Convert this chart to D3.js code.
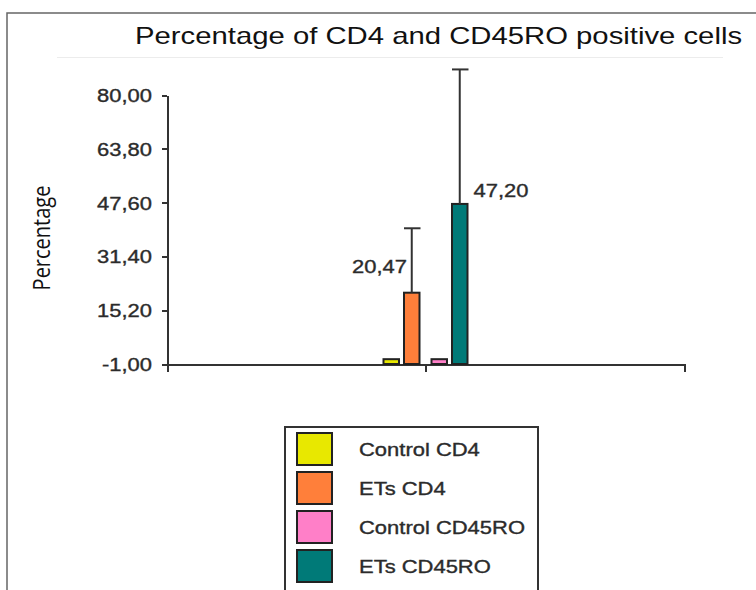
<!DOCTYPE html>
<html>
<head>
<meta charset="utf-8">
<style>
    body { margin: 0; padding: 0; overflow: hidden; background-color: #fff; }
    svg { display: block; }
    text { font-family: "Liberation Sans", Arial, sans-serif; fill: #2b2b2b; }
    .heavy { stroke: #2b2b2b; stroke-width: 0.35px; }
    .axis path, .axis line { stroke: #333; stroke-width: 2; shape-rendering: crispEdges; }
</style>
</head>
<body>
<div id="chart"></div>
<script src="https://d3js.org/d3.v7.min.js"></script>
<script>
    // data
    var categories = ["Control CD4", "ETs CD4", "Control CD45RO", "ETs CD45RO"];
    var groups = ["CD4", "CD45RO"];
    var conditions = ["Control", "ETs"];
    var values = [0.45, 20.47, 0.45, 47.20];
    var errors = [0, 19.4, 0, 40.5];
    var labels = [null, "20,47", null, "47,20"];
    var colors = ["#e8e800", "#ff7f3a", "#ff7fc8", "#007a78"];
    var yTicks = [-1, 15.2, 31.4, 47.6, 63.8, 80];

    var width = 756, height = 590;
    var stretchK = 1.22; // the original image is a bit wider than tall

    var svg = d3.select("#chart").append("svg")
        .attr("width", width)
        .attr("height", height);

    // outer frame, runs off right and bottom
    svg.append("rect")
        .attr("x", 7).attr("y", 13)
        .attr("width", 800).attr("height", 800)
        .attr("fill", "none")
        .attr("stroke", "#666")
        .attr("stroke-width", 1.5);

    function stretch(sel, k) {
        sel.each(function() {
            var w = this.getComputedTextLength();
            d3.select(this).attr("textLength", w * k).attr("lengthAdjust", "spacingAndGlyphs");
        });
    }

    var title = svg.append("text")
        .attr("x", 135).attr("y", 44)
        .style("font-size", "24px")
        .style("fill", "#111")
        .text("Percentage of CD4 and CD45RO positive cells");
    stretch(title, stretchK);

    svg.append("line")
        .attr("x1", 57).attr("x2", 723)
        .attr("y1", 57.5).attr("y2", 57.5)
        .attr("stroke", "#ececec");

    var plot = { left: 167, right: 684, top: 95, bottom: 364 };

    var y = d3.scaleLinear().domain([-1, 80]).range([plot.bottom, plot.top]);
    var x = d3.scaleBand().domain([""]).range([plot.left, plot.right]);
    var cx = x("") + x.bandwidth() / 2;
    var x0 = d3.scaleBand().domain(groups).range([cx - 42, cx + 42]).paddingInner(0.25);
    var x1 = d3.scaleBand().domain(conditions).range([0, x0.bandwidth()]).paddingInner(0.244);

    var locale = d3.formatLocale({ decimal: ",", thousands: ".", grouping: [3], currency: ["", ""], minus: "-" });
    var fmt = locale.format(".2f");

    var yAxis = svg.append("g")
        .attr("class", "axis")
        .attr("transform", "translate(" + plot.left + ",0)")
        .call(d3.axisLeft(y).tickValues(yTicks).tickFormat(fmt).tickSize(5).tickSizeOuter(0).tickPadding(10));
    yAxis.selectAll("text")
        .attr("class", "heavy")
        .style("font-size", "18px")
        .style("fill", "#2b2b2b")
        .attr("dy", "0.36em");
    stretch(yAxis.selectAll("text"), stretchK);

    var xAxis = svg.append("g")
        .attr("class", "axis")
        .attr("transform", "translate(0," + plot.bottom + ")")
        .call(d3.axisBottom(x).tickSize(8).tickSizeOuter(8));
    xAxis.selectAll("text").remove();

    svg.append("text")
        .attr("transform", "translate(50,238) rotate(-90) scale(1,1.22)")
        .attr("text-anchor", "middle")
        .style("font-family", "'Open Sans', sans-serif")
        .style("font-size", "20px")
        .style("fill", "#111")
        .text("Percentage");

    var bars = categories.map(function(c, i) {
        var g = groups[Math.floor(i / 2)];
        var cond = conditions[i % 2];
        return { name: c, value: values[i], err: errors[i], label: labels[i], color: colors[i],
                 x: x0(g) + x1(cond), w: x1.bandwidth() };
    });

    svg.append("g").selectAll("rect")
        .data(bars)
        .enter().append("rect")
        .attr("x", d => d.x)
        .attr("y", d => y(d.value))
        .attr("width", d => d.w)
        .attr("height", d => y(-1) - y(d.value))
        .attr("fill", d => d.color)
        .attr("stroke", "#222")
        .attr("stroke-width", 2);

    // error bars
    var eb = svg.append("g").selectAll("g")
        .data(bars.filter(d => d.err > 0))
        .enter().append("g")
        .attr("stroke", "#333")
        .attr("stroke-width", 2);
    eb.append("line")
        .attr("x1", d => d.x + d.w / 2).attr("x2", d => d.x + d.w / 2)
        .attr("y1", d => y(d.value)).attr("y2", d => y(d.value + d.err));
    eb.append("line")
        .attr("x1", d => d.x).attr("x2", d => d.x + d.w + 1)
        .attr("y1", d => y(d.value + d.err)).attr("y2", d => y(d.value + d.err));

    // value labels
    var vl = svg.append("g").selectAll("text")
        .data(bars.filter(d => d.label))
        .enter().append("text")
        .attr("class", "heavy")
        .attr("x", (d, i) => i === 0 ? d.x + 3 : d.x + d.w + 6)
        .attr("y", (d, i) => i === 0 ? y(d.value) - 20 : y(d.value) - 7)
        .attr("text-anchor", (d, i) => i === 0 ? "end" : "start")
        .style("font-size", "18px")
        .text(d => d.label);
    stretch(vl, stretchK);

    // legend
    var legend = svg.append("g").attr("transform", "translate(285,427)");
    legend.append("rect")
        .attr("width", 253).attr("height", 300)
        .attr("fill", "none")
        .attr("stroke", "#333")
        .attr("stroke-width", 2);
    var item = legend.selectAll("g.item")
        .data(bars)
        .enter().append("g")
        .attr("class", "item")
        .attr("transform", (d, i) => "translate(12," + (6 + i * 39) + ")");
    item.append("rect")
        .attr("width", 35).attr("height", 32)
        .attr("fill", d => d.color)
        .attr("stroke", "#222")
        .attr("stroke-width", 2);
    var lt = item.append("text")
        .attr("class", "heavy")
        .attr("x", 62).attr("y", 23)
        .style("font-size", "18px")
        .text(d => d.name);
    stretch(lt, stretchK);
</script>
</body>
</html>
